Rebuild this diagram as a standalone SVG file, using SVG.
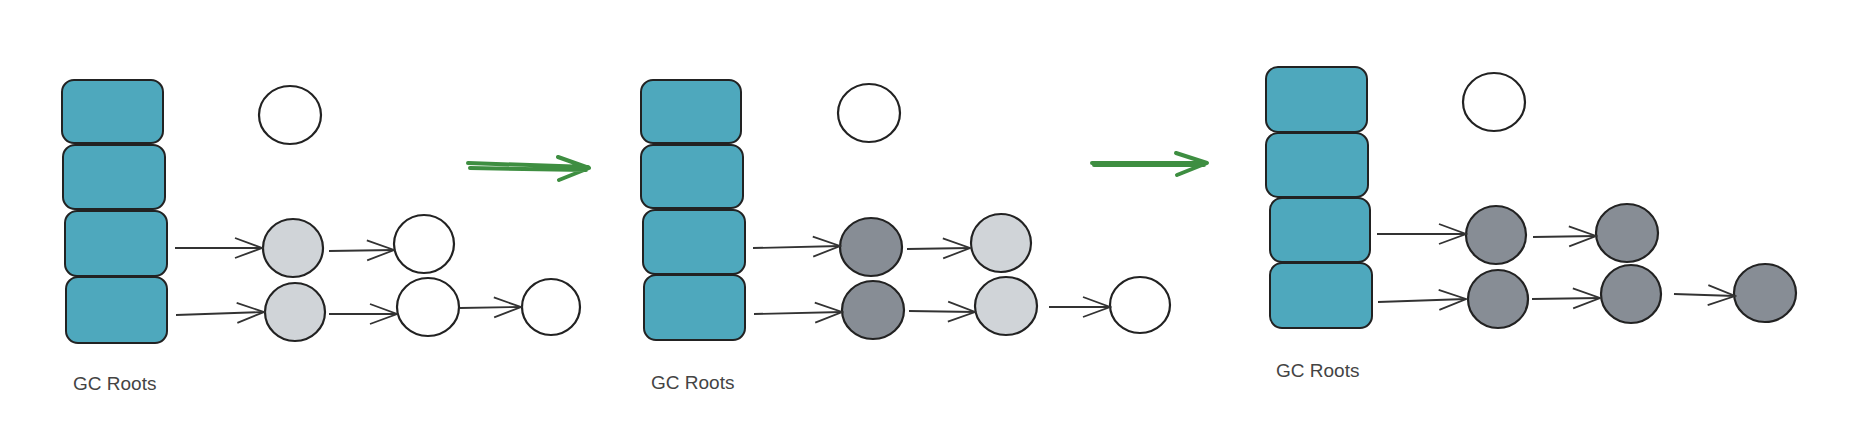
<svg xmlns="http://www.w3.org/2000/svg" width="1852" height="428" viewBox="0 0 1852 428">
<style>
.root{fill:#4ea8bd;stroke:#222;stroke-width:2}
.obj{stroke:#222;stroke-width:2.2}
.white{fill:#fff}
.light{fill:#d0d4d8}
.dark{fill:#878d95}
.edge{fill:none;stroke:#333;stroke-width:1.8;marker-end:url(#open)}
.step{fill:none;stroke:#3e8e41;stroke-width:4;stroke-linecap:round;stroke-linejoin:round}
.lbl{font-family:"Liberation Sans",Arial,sans-serif;font-size:19px;fill:#444}
</style>
<defs>
<marker id="open" markerUnits="userSpaceOnUse" markerWidth="30" markerHeight="24" viewBox="0 0 30 24" refX="28" refY="12" orient="auto">
<path d="M1,2 L28,12 L1,22" fill="none" stroke="#333" stroke-width="1.8"/>
</marker>
</defs>
<rect width="1852" height="428" fill="#fff"/>

<!-- Panel 1 -->
<g id="p1-roots">
<rect class="root" x="62" y="80" width="101" height="63" rx="12"/>
<rect class="root" x="63" y="145" width="102" height="64" rx="12"/>
<rect class="root" x="65" y="211" width="102" height="65" rx="12"/>
<rect class="root" x="66" y="277" width="101" height="66" rx="12"/>
<text class="lbl" x="73" y="390">GC Roots</text>
</g>
<g id="p1-top"><ellipse class="obj white" cx="290" cy="115" rx="31" ry="29"/></g>
<g id="p1-a1"><ellipse class="obj light" cx="293" cy="248" rx="30" ry="29"/></g>
<g id="p1-a2"><ellipse class="obj white" cx="424" cy="244" rx="30" ry="29"/></g>
<g id="p1-b1"><ellipse class="obj light" cx="295" cy="312" rx="30" ry="29"/></g>
<g id="p1-b2"><ellipse class="obj white" cx="428" cy="307" rx="31" ry="29"/></g>
<g id="p1-b3"><ellipse class="obj white" cx="551" cy="307" rx="29" ry="28"/></g>

<!-- Panel 2 -->
<g id="p2-roots">
<rect class="root" x="641" y="80" width="100" height="63" rx="12"/>
<rect class="root" x="641" y="145" width="102" height="63" rx="12"/>
<rect class="root" x="643" y="210" width="102" height="64" rx="12"/>
<rect class="root" x="644" y="275" width="101" height="65" rx="12"/>
<text class="lbl" x="651" y="389">GC Roots</text>
</g>
<g id="p2-top"><ellipse class="obj white" cx="869" cy="113" rx="31" ry="29"/></g>
<g id="p2-a1"><ellipse class="obj dark" cx="871" cy="247" rx="31" ry="29"/></g>
<g id="p2-a2"><ellipse class="obj light" cx="1001" cy="243" rx="30" ry="29"/></g>
<g id="p2-b1"><ellipse class="obj dark" cx="873" cy="310" rx="31" ry="29"/></g>
<g id="p2-b2"><ellipse class="obj light" cx="1006" cy="306" rx="31" ry="29"/></g>
<g id="p2-b3"><ellipse class="obj white" cx="1140" cy="305" rx="30" ry="28"/></g>

<!-- Panel 3 -->
<g id="p3-roots">
<rect class="root" x="1266" y="67" width="101" height="65" rx="12"/>
<rect class="root" x="1266" y="133" width="102" height="64" rx="12"/>
<rect class="root" x="1270" y="198" width="100" height="64" rx="12"/>
<rect class="root" x="1270" y="263" width="102" height="65" rx="12"/>
<text class="lbl" x="1276" y="377">GC Roots</text>
</g>
<g id="p3-top"><ellipse class="obj white" cx="1494" cy="102" rx="31" ry="29"/></g>
<g id="p3-a1"><ellipse class="obj dark" cx="1496" cy="235" rx="30" ry="29"/></g>
<g id="p3-a2"><ellipse class="obj dark" cx="1627" cy="233" rx="31" ry="29"/></g>
<g id="p3-b1"><ellipse class="obj dark" cx="1498" cy="299" rx="30" ry="29"/></g>
<g id="p3-b2"><ellipse class="obj dark" cx="1631" cy="294" rx="30" ry="29"/></g>
<g id="p3-b3"><ellipse class="obj dark" cx="1765" cy="293" rx="31" ry="29"/></g>

<g id="connectors">
<path class="edge" d="M175,248 L262,248"/>
<path class="edge" d="M329,251 L394,250"/>
<path class="edge" d="M176,315 L264,312"/>
<path class="edge" d="M329,314 L397,314"/>
<path class="edge" d="M460,308 L521,307"/>

<path class="edge" d="M753,248 L840,246"/>
<path class="edge" d="M907,249 L970,248"/>
<path class="edge" d="M754,314 L842,312"/>
<path class="edge" d="M909,311 L975,312"/>
<path class="edge" d="M1049,307 L1110,307"/>

<path class="edge" d="M1377,234 L1466,234"/>
<path class="edge" d="M1533,237 L1596,236"/>
<path class="edge" d="M1378,302 L1466,299"/>
<path class="edge" d="M1532,299 L1600,298"/>
<path class="edge" d="M1674,294 L1735,296"/>

<path class="step" d="M468,163 L588,167 M470,168 L586,170 M558,157 L589,168 L559,180"/>
<path class="step" d="M1092,163 L1206,163 M1094,165 L1204,165 M1176,153 L1207,163 L1177,175"/>
</g>
</svg>
